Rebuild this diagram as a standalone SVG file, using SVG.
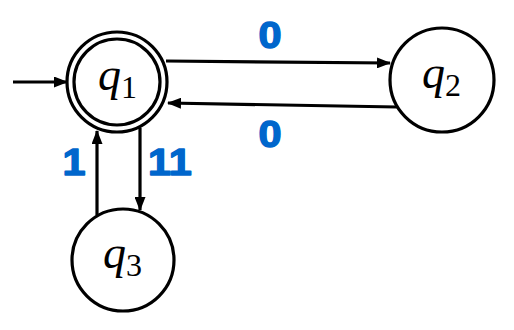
<svg xmlns="http://www.w3.org/2000/svg" width="514" height="330" viewBox="0 0 514 330">
<style>
.st{fill:#fff;stroke:#000;stroke-width:3.2}
.ed{fill:none;stroke:#000;stroke-width:3.2}
.q{font-family:"Liberation Serif","DejaVu Serif",serif;font-style:italic;font-size:46px;fill:#000}
.sub{font-family:"Liberation Serif","DejaVu Serif",serif;font-style:normal;font-size:32px}
.lb{font-family:"Liberation Sans",Arial,sans-serif;font-weight:bold;font-size:37px;fill:#0066CC;stroke:#0066CC;stroke-width:1.4;stroke-linejoin:round;text-anchor:middle}
</style>
<defs>
<marker id="ah" viewBox="0 0 14 11" refX="13" refY="5.5" markerWidth="14" markerHeight="11" markerUnits="userSpaceOnUse" orient="auto">
<path d="M0,0 L14,5.5 L0,11 Z" fill="#000"/>
</marker>
</defs>
<g id="edges">
<line class="ed" x1="13" y1="82" x2="67" y2="82" marker-end="url(#ah)"/>
<line class="ed" x1="166" y1="61" x2="390" y2="63" marker-end="url(#ah)"/>
<line class="ed" x1="397" y1="107" x2="168" y2="103" marker-end="url(#ah)"/>
<line class="ed" x1="97" y1="215" x2="97" y2="131" marker-end="url(#ah)"/>
<line class="ed" x1="140" y1="128" x2="140" y2="210" marker-end="url(#ah)"/>
</g>
<g id="labels">
<text class="lb" transform="translate(270,48) scale(1.12,1)">0</text>
<text class="lb" transform="translate(270,147) scale(1.12,1)">0</text>
<text class="lb" transform="translate(74,175) scale(1.12,1)">1</text>
<text class="lb" transform="translate(170,175) scale(1.12,1)">11</text>
</g>
<g id="q1">
<circle class="st" cx="117" cy="82" r="50"/>
<circle class="ed" cx="117" cy="82" r="43"/>
<text class="q" x="98" y="90">q<tspan class="sub" dy="8">1</tspan></text>
</g>
<g id="q2">
<circle class="st" cx="442" cy="80" r="52"/>
<text class="q" x="422" y="88">q<tspan class="sub" dy="8">2</tspan></text>
</g>
<g id="q3">
<circle class="st" cx="123" cy="260" r="51"/>
<text class="q" x="103" y="268">q<tspan class="sub" dy="8">3</tspan></text>
</g>
</svg>
